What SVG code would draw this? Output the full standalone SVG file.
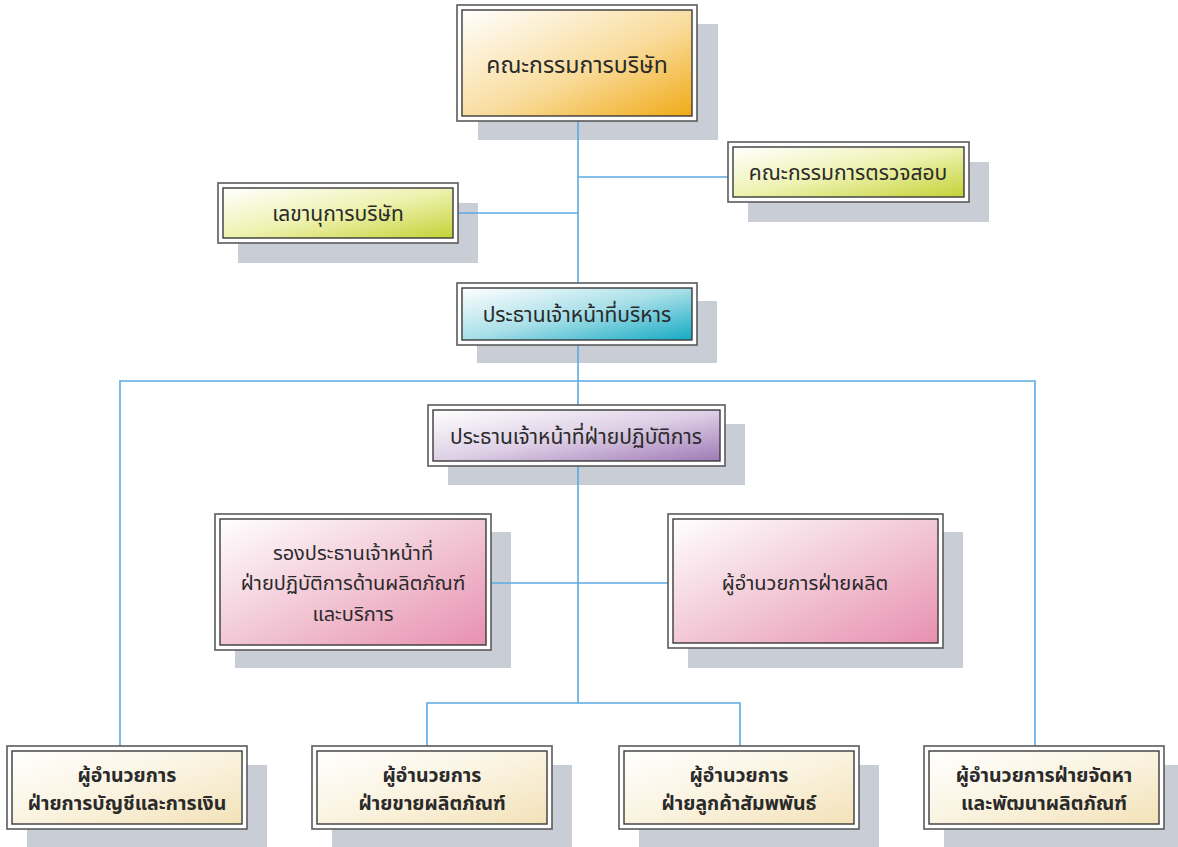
<svg xmlns="http://www.w3.org/2000/svg" width="1178" height="847" viewBox="0 0 1178 847">
<defs>
<linearGradient id="gOrange" x1="0" y1="0" x2="1" y2="1"><stop offset="0" stop-color="#ffffff"/><stop offset="0.55" stop-color="#f9dc9c"/><stop offset="1" stop-color="#f0aa18"/></linearGradient>
<linearGradient id="gGreen" x1="0" y1="0" x2="1" y2="1"><stop offset="0" stop-color="#ffffff"/><stop offset="0.5" stop-color="#eef2b0"/><stop offset="1" stop-color="#c4d236"/></linearGradient>
<linearGradient id="gCyan" x1="0" y1="0" x2="1" y2="1"><stop offset="0" stop-color="#ffffff"/><stop offset="0.5" stop-color="#a8dfe8"/><stop offset="1" stop-color="#14aac4"/></linearGradient>
<linearGradient id="gPurple" x1="0" y1="0" x2="1" y2="1"><stop offset="0" stop-color="#ffffff"/><stop offset="0.5" stop-color="#ded0e6"/><stop offset="1" stop-color="#a07ab6"/></linearGradient>
<linearGradient id="gPink" x1="0" y1="0" x2="1" y2="1"><stop offset="0" stop-color="#ffffff"/><stop offset="0.5" stop-color="#f2c8d6"/><stop offset="1" stop-color="#e890b0"/></linearGradient>
<linearGradient id="gCream" x1="0" y1="0" x2="1" y2="1"><stop offset="0" stop-color="#ffffff"/><stop offset="0.5" stop-color="#faf3e0"/><stop offset="1" stop-color="#f3e2b8"/></linearGradient>
</defs>
<style>
.sh{fill:#c9cdd5}
.outer{fill:#ffffff;stroke:#5a5a5a;stroke-width:1.6}
.inner{stroke:#3a3a3a;stroke-width:1.4}
.conn{stroke:#5aaae0;stroke-width:1.6;fill:none}
text{font-family:"Noto Sans Thai","Noto Sans","DejaVu Sans",sans-serif;fill:#2a2a2a;text-anchor:middle}
.big{font-size:23px}
.mid{font-size:21px}
.pk{font-size:20px}
.bold{font-size:19.5px;font-weight:bold}
</style>
<g id="shadows">
<rect class="sh" x="478" y="24" width="240" height="116"/>
<rect class="sh" x="748" y="162" width="241" height="60"/>
<rect class="sh" x="238" y="203" width="240" height="60"/>
<rect class="sh" x="477" y="301" width="240" height="62"/>
<rect class="sh" x="448" y="424" width="297" height="61"/>
<rect class="sh" x="235" y="532" width="276" height="136"/>
<rect class="sh" x="688" y="532" width="275" height="136"/>
<rect class="sh" x="27" y="765" width="240" height="82"/>
<rect class="sh" x="332" y="765" width="240" height="82"/>
<rect class="sh" x="639" y="765" width="240" height="82"/>
<rect class="sh" x="944" y="765" width="234" height="82"/>
</g>
<g id="connectors">
<line class="conn" x1="578" y1="121" x2="578" y2="703"/>
<line class="conn" x1="578" y1="177" x2="728" y2="177"/>
<line class="conn" x1="458" y1="213" x2="578" y2="213"/>
<polyline class="conn" points="120,746 120,381 1035,381 1035,746"/>
<line class="conn" x1="491" y1="583" x2="668" y2="583"/>
<polyline class="conn" points="427,746 427,703 740,703 740,746"/>
</g>
<g id="board">
<rect class="outer" x="457" y="5" width="240" height="116"/>
<rect class="inner" x="462" y="10" width="230" height="106" fill="url(#gOrange)"/>
<text class="big" x="577" y="73">คณะกรรมการบริษัท</text>
</g>
<g id="audit">
<rect class="outer" x="728" y="142" width="241" height="60"/>
<rect class="inner" x="733" y="147" width="231" height="50" fill="url(#gGreen)"/>
<text class="mid" x="848" y="180">คณะกรรมการตรวจสอบ</text>
</g>
<g id="secretary">
<rect class="outer" x="218" y="183" width="240" height="60"/>
<rect class="inner" x="223" y="188" width="230" height="50" fill="url(#gGreen)"/>
<text class="mid" x="338" y="221">เลขานุการบริษัท</text>
</g>
<g id="ceo">
<rect class="outer" x="457" y="283" width="240" height="62"/>
<rect class="inner" x="462" y="288" width="230" height="52" fill="url(#gCyan)"/>
<text class="mid" x="577" y="322">ประธานเจ้าหน้าที่บริหาร</text>
</g>
<g id="coo">
<rect class="outer" x="428" y="405" width="297" height="61"/>
<rect class="inner" x="433" y="410" width="287" height="51" fill="url(#gPurple)"/>
<text class="mid" x="576" y="444">ประธานเจ้าหน้าที่ฝ่ายปฏิบัติการ</text>
</g>
<g id="vp">
<rect class="outer" x="215" y="514" width="276" height="136"/>
<rect class="inner" x="220" y="519" width="266" height="126" fill="url(#gPink)"/>
<text class="pk" x="353" y="560">รองประธานเจ้าหน้าที่</text>
<text class="pk" x="353" y="590">ฝ่ายปฏิบัติการด้านผลิตภัณฑ์</text>
<text class="pk" x="353" y="621">และบริการ</text>
</g>
<g id="production">
<rect class="outer" x="668" y="514" width="275" height="134"/>
<rect class="inner" x="673" y="519" width="265" height="124" fill="url(#gPink)"/>
<text class="pk" x="805" y="590">ผู้อำนวยการฝ่ายผลิต</text>
</g>
<g id="finance">
<rect class="outer" x="7" y="746" width="240" height="83"/>
<rect class="inner" x="12" y="751" width="230" height="73" fill="url(#gCream)"/>
<text class="bold" x="127" y="782">ผู้อำนวยการ</text>
<text class="bold" x="127" y="810">ฝ่ายการบัญชีและการเงิน</text>
</g>
<g id="sales">
<rect class="outer" x="312" y="746" width="240" height="83"/>
<rect class="inner" x="317" y="751" width="230" height="73" fill="url(#gCream)"/>
<text class="bold" x="432" y="782">ผู้อำนวยการ</text>
<text class="bold" x="432" y="810">ฝ่ายขายผลิตภัณฑ์</text>
</g>
<g id="customer">
<rect class="outer" x="619" y="746" width="240" height="83"/>
<rect class="inner" x="624" y="751" width="230" height="73" fill="url(#gCream)"/>
<text class="bold" x="739" y="782">ผู้อำนวยการ</text>
<text class="bold" x="739" y="810">ฝ่ายลูกค้าสัมพพันธ์</text>
</g>
<g id="procurement">
<rect class="outer" x="924" y="746" width="240" height="83"/>
<rect class="inner" x="929" y="751" width="230" height="73" fill="url(#gCream)"/>
<text class="bold" x="1044" y="782">ผู้อำนวยการฝ่ายจัดหา</text>
<text class="bold" x="1044" y="810">และพัฒนาผลิตภัณฑ์</text>
</g>
</svg>
